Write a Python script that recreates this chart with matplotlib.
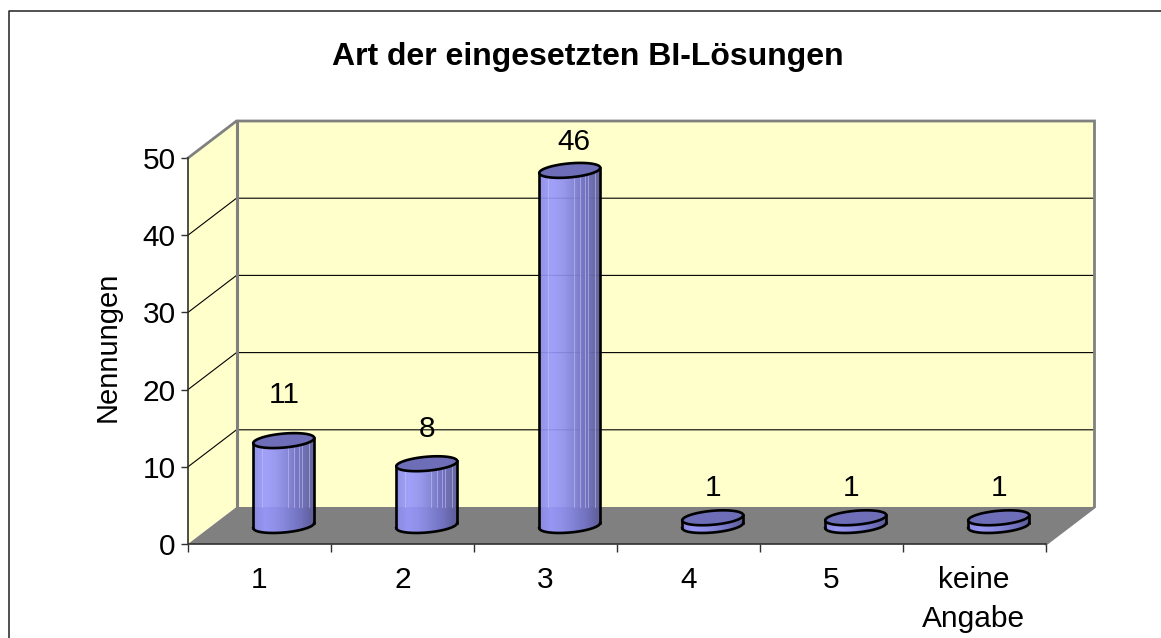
#!/usr/bin/env python3
"""Art der eingesetzten BI-Loesungen: Excel style 3D cylinder column chart."""

import numpy as np
import matplotlib
matplotlib.use("Agg")
import matplotlib.pyplot as plt
from matplotlib.colors import LinearSegmentedColormap

categories = ["1", "2", "3", "4", "5", "keine\nAngabe"]
values = [11, 8, 46, 1, 1, 1]
y_ticks = [0, 10, 20, 30, 40, 50]

title = "Art der eingesetzten BI-Lösungen"
y_label = "Nennungen"

FIG_W, FIG_H = 1161, 638
# front plane of the plot in pixels
LEFT, RIGHT, TOP, BOTTOM = 188, 1046, 158, 544
DEPTH_X, DEPTH_Y = 48.5, 37  # pixels

WALL = "#FFFFCC"
FLOOR = "#808080"
TOP_FACE = "#6E6EB8"
body_cmap = LinearSegmentedColormap.from_list(
    "body", ["#8A8AE6", "#9999FF", "#9090F0", "#8080D6", "#7070BC", "#5C5C9A"])
# pale streaks on the columns, as fraction of the half width
streaks = [-0.72, 0.14, 0.33, 0.5, 0.61, 0.83]
# hand placed value labels in the original: pixel offset from the column top
label_nudge = [(24.5, 64), (24.5, 53), (28, 47), (24.5, 48), (19.5, 48), (24.5, 48)]

plt.rcParams["font.family"] = ["Liberation Sans", "DejaVu Sans"]

fig = plt.figure(figsize=(FIG_W / 100, FIG_H / 100), dpi=100)
ax = fig.add_axes([LEFT / FIG_W, 1 - BOTTOM / FIG_H,
                   (RIGHT - LEFT) / FIG_W, (BOTTOM - TOP) / FIG_H])
ax.set_xlim(0, len(categories))
ax.set_ylim(0, y_ticks[-1])
ax.patch.set_visible(False)
for s in ax.spines.values():
    s.set_visible(False)

# pixels to data units
ux = len(categories) / (RIGHT - LEFT)
uy = y_ticks[-1] / (BOTTOM - TOP)
dx = DEPTH_X * ux
dy = DEPTH_Y * uy
n = len(categories)
ymax = y_ticks[-1]

# outer chart frame, runs off the right and bottom of the picture
fig.add_artist(plt.Line2D([1.2, 9 / FIG_W, 9 / FIG_W], [1 - 10.5 / FIG_H, 1 - 10.5 / FIG_H, -0.1],
                          transform=fig.transFigure, color="#202020", lw=1.1))

# walls and floor
ax.fill([0, dx, dx, 0], [0, dy, ymax + dy, ymax], color=WALL, lw=0, clip_on=False, zorder=1)
ax.fill([dx, n + dx, n + dx, dx], [dy, dy, ymax + dy, ymax + dy], color=WALL, lw=0,
        clip_on=False, zorder=1)
ax.fill([0, n, n + dx, dx], [0, 0, dy, dy], color=FLOOR, lw=0, clip_on=False, zorder=2)

# gridlines, on the side wall and along the back wall
for t in y_ticks[1:-1]:
    ax.plot([0, dx, n + dx], [t, t + dy, t + dy], color="black", lw=0.8, clip_on=False, zorder=3)

# gray wall outline
ax.plot([0, dx, n + dx, n + dx, n], [ymax, ymax + dy, ymax + dy, dy, 0], color=FLOOR, lw=2.0,
        clip_on=False, zorder=4, solid_joinstyle="miter")
ax.plot([dx, dx], [dy, ymax + dy], color=FLOOR, lw=2.2, clip_on=False, zorder=4)

# axis lines and ticks
ax.plot([0, 0, n], [ymax, 0, 0], color="#303030", lw=1.2, clip_on=False, zorder=5)
ax.set_xticks(range(n + 1))
ax.set_xticklabels([])
ax.set_yticks(y_ticks)
ax.tick_params(axis="y", length=5, width=1.0, color="#303030", labelsize=21.5, pad=4)
ax.tick_params(axis="x", length=5.5, width=1.0, color="#303030")

for i, c in enumerate(categories):
    ax.annotate(c, xy=(i + 0.5, 0), xytext=(-0.5 if i == n - 1 else 0, -22), textcoords="offset pixels",
                ha="center", va="top", fontsize=21.5, linespacing=1.52, annotation_clip=False)

ax.set_ylabel(y_label, fontsize=21)
ax.yaxis.set_label_coords((122 - LEFT) / (RIGHT - LEFT), 0.51)
fig.text(588 / FIG_W, 1 - 57.5 / FIG_H, title, fontsize=23, fontweight="bold",
         ha="center", va="center")

# cylinders
half_w = 30.5 * ux
half_h = 7.0 * uy
tilt = 2.6 * uy  # right end of the ellipse sits higher than the left end
t = np.linspace(0, 2 * np.pi, 121)
ell_x = half_w * np.cos(t)
ell_y = half_h * np.sin(t) + tilt * np.cos(t)
u = np.linspace(-1, 1, 61)


def lower_edge(frac):
    return -half_h * np.sqrt(1 - frac ** 2) + tilt * frac


for i, v in enumerate(values):
    cx = i + 0.5 + dx / 2
    base = dy / 2
    # body, in narrow vertical strips for the shading
    for a, b in zip(u[:-1], u[1:]):
        m = (a + b) / 2
        col = body_cmap((m + 1) / 2)
        xs = [cx + a * half_w, cx + b * half_w, cx + b * half_w, cx + a * half_w]
        ys = [base + lower_edge(a), base + lower_edge(b),
              base + v + lower_edge(b), base + v + lower_edge(a)]
        ax.fill(xs, ys, color=col, lw=0.3, clip_on=False, zorder=6)
    # streaks only show above the back edge of the floor
    if base + v > dy:
        for f in streaks:
            ax.plot([cx + f * half_w] * 2, [dy, base + v + lower_edge(f)], color="#C8C8F0",
                    lw=0.7, alpha=0.55, clip_on=False, zorder=6.5)
    # outline of the body
    low = base + lower_edge(u)
    ax.plot(cx + u * half_w, low, color="black", lw=1.9, clip_on=False, zorder=7)
    ax.plot([cx - half_w, cx - half_w], [low[0], low[0] + v], color="black", lw=1.9,
            clip_on=False, zorder=7)
    ax.plot([cx + half_w, cx + half_w], [low[-1], low[-1] + v], color="black", lw=1.9,
            clip_on=False, zorder=7)
    # top face
    ax.fill(cx + ell_x, base + v + ell_y, fc=TOP_FACE, ec="black", lw=1.9, clip_on=False, zorder=8)
    # value label
    ax.annotate(str(v), xy=(i + 0.5, v), xytext=label_nudge[i], textcoords="offset pixels",
                ha="center", va="center", fontsize=21.5, annotation_clip=False, zorder=9)

fig.savefig("out.png", dpi=100)
